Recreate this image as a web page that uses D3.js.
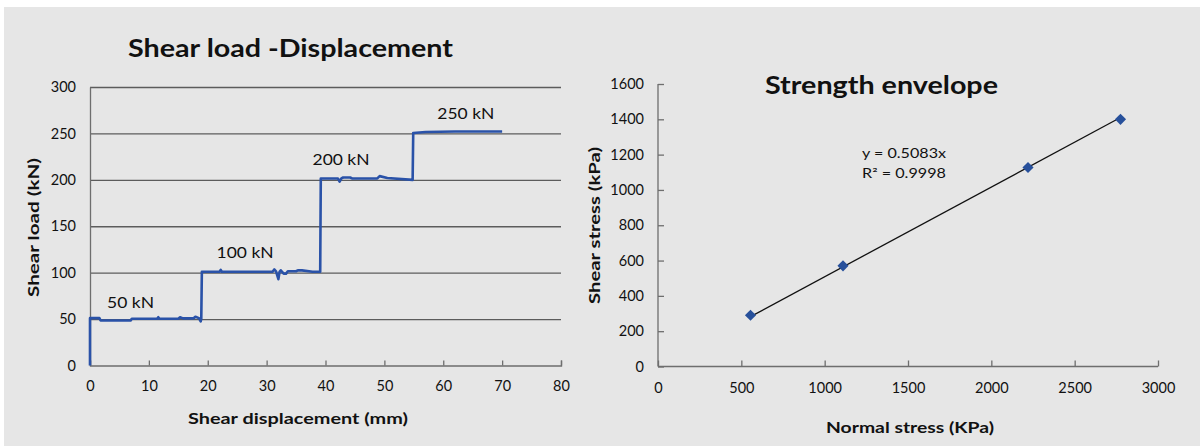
<!DOCTYPE html>
<html lang="en">
	<head>
		<meta charset="utf-8">
		<title>Shear load and strength envelope</title>
		<script type="text/javascript" src="https://cdn.jsdelivr.net/npm/d3@7"></script>
		<style type="text/css">
			body { margin: 0; background: #ffffff; }
			svg { display: block; }
			text { font-family: Lato, "Open Sans", sans-serif; fill: #111; }
		</style>
	</head>
	<body>
		<script type="text/javascript">

			//Left chart: shear displacement (mm) vs shear load (kN)
			var displacement = [0, 0, 1.6, 1.8, 6.9, 7.1, 11.4, 11.6, 11.8, 15.0, 15.3, 15.8, 17.6, 17.9, 18.5, 18.8, 18.9, 19.0,
				22.0, 22.2, 22.4, 31.0, 31.3, 31.6, 32.0, 32.2, 32.4, 32.9, 33.3, 33.6, 35.0, 35.3, 36.0, 37.8, 38.2, 39.1,
				39.2, 42.1, 42.4, 42.7, 43.0, 44.2, 44.5, 48.8, 49.2, 50.5, 54.8,
				54.9, 57.0, 62.0, 70.0];
			var shearLoad = [0, 51, 51, 48.5, 48.5, 50.3, 50.3, 52, 50.3, 50.3, 52, 50.8, 50.8, 52.5, 51, 47.5, 50.5, 101,
				101, 103, 101, 101, 103.5, 101.5, 93, 101, 102.5, 99, 99, 101.5, 101.5, 102.5, 102.5, 101, 101, 101,
				201.5, 201.5, 198, 201.5, 202.5, 202.5, 201.5, 201.5, 204, 202, 200,
				250.5, 251.5, 252, 252];
			var loadLabels = ["50 kN", "100 kN", "200 kN", "250 kN"];
			var loadLabelX = [2.9, 21.5, 37.8, 59.0];
			var loadLabelY = [62, 116, 216, 265.5];

			//Right chart: normal stress vs shear stress (kPa)
			var normalStress = [555, 1110, 2220, 2775];
			var shearStress = [290, 570, 1127, 1400];
			var slope = 0.5083;
			var rSquared = 0.9998;

			var xTicksLeft = [0, 10, 20, 30, 40, 50, 60, 70, 80];
			var yTicksLeft = [0, 50, 100, 150, 200, 250, 300];
			var xTicksRight = [0, 500, 1000, 1500, 2000, 2500, 3000];
			var yTicksRight = [0, 200, 400, 600, 800, 1000, 1200, 1400, 1600];

			//Width and height
			var w = 1200;
			var h = 446;

			var svg = d3.select("body")
						.append("svg")
						.attr("width", w)
						.attr("height", h);

			//grey chart area, white strip at top and left
			svg.append("rect")
				.attr("x", 4)
				.attr("y", 7)
				.attr("width", w - 4)
				.attr("height", h - 7)
				.attr("fill", "#e6e6e6");

			var axisColor = "#6e6e6e";
			var plain = d3.format("d");

			// ---------- left chart ----------
			var xL = d3.scaleLinear().domain([0, 80]).range([90, 561]);
			var yL = d3.scaleLinear().domain([0, 300]).range([365.5, 87]);

			var left = svg.append("g");

			//gridlines
			left.append("g")
				.attr("transform", "translate(90,0)")
				.call(d3.axisRight(yL).tickValues(yTicksLeft.slice(1)).tickSize(471).tickFormat(""))
				.call(function(g) {
					g.select(".domain").remove();
					g.selectAll("line").attr("stroke", "#5c5c5c").attr("stroke-width", 1.3);
				});

			//y axis
			left.append("g")
				.attr("transform", "translate(90,0)")
				.call(d3.axisLeft(yL).tickValues(yTicksLeft).tickSize(0).tickPadding(14).tickFormat(plain))
				.call(function(g) {
					g.select(".domain").attr("stroke", axisColor).attr("stroke-width", 1.3);
					g.selectAll("text").attr("font-size", "14.5px").attr("fill", "#111")
						.style("font-family", "Lato, sans-serif");
				});

			//x axis, ticks pointing up
			left.append("g")
				.attr("transform", "translate(0,365.5)")
				.call(d3.axisTop(xL).tickValues(xTicksLeft).tickSize(5).tickFormat(plain))
				.call(function(g) {
					g.select(".domain").attr("stroke", axisColor).attr("stroke-width", 1.3);
					g.selectAll("line").attr("stroke", axisColor).attr("stroke-width", 1.3);
					g.selectAll("text").attr("font-size", "14.5px").attr("fill", "#111")
						.attr("y", 25)
						.style("font-family", "Lato, sans-serif");
				});

			var line = d3.line()
				.x(function(d, i) { return xL(displacement[i]); })
				.y(function(d) { return yL(d); });

			left.append("path")
				.datum(shearLoad)
				.attr("d", line)
				.attr("fill", "none")
				.attr("stroke", "#2a52a8")
				.attr("stroke-width", 2.6)
				.attr("stroke-linejoin", "round");

			left.selectAll(".lbl")
				.data(loadLabels)
				.enter()
				.append("text")
				.text(function(d) { return d; })
				.attr("x", function(d, i) { return xL(loadLabelX[i]); })
				.attr("y", function(d, i) { return yL(loadLabelY[i]); })
				.attr("font-size", "16px")
				.attr("textLength", function(d) { return d.length === 5 ? 47 : 57; })
				.attr("lengthAdjust", "spacingAndGlyphs");

			left.append("text")
				.text("Shear load -Displacement")
				.attr("x", 128)
				.attr("y", 57)
				.attr("font-size", "24px")
				.attr("font-weight", "bold")
				.attr("textLength", 325)
				.attr("lengthAdjust", "spacingAndGlyphs");

			left.append("text")
				.text("Shear displacement (mm)")
				.attr("x", 188)
				.attr("y", 424)
				.attr("font-size", "15px")
				.attr("font-weight", "bold")
				.attr("textLength", 220)
				.attr("lengthAdjust", "spacingAndGlyphs");

			left.append("text")
				.text("Shear load (kN)")
				.attr("transform", "translate(39,297) rotate(-90)")
				.attr("font-size", "15px")
				.attr("font-weight", "bold")
				.attr("textLength", 139)
				.attr("lengthAdjust", "spacingAndGlyphs");

			// ---------- right chart ----------
			var xR = d3.scaleLinear().domain([0, 3000]).range([658, 1158]);
			var yR = d3.scaleLinear().domain([0, 1600]).range([366.5, 84]);

			var right = svg.append("g");

			right.append("g")
				.attr("transform", "translate(658,0)")
				.call(d3.axisRight(yR).tickValues(yTicksRight).tickSize(6).tickFormat(plain))
				.call(function(g) {
					g.select(".domain").attr("d", "M0," + yR(1600) + "V" + yR(0)).attr("stroke", axisColor).attr("stroke-width", 1.3);
					g.selectAll("line").attr("stroke", axisColor).attr("stroke-width", 1.3);
					g.selectAll("text").attr("font-size", "14.5px").attr("fill", "#111")
						.attr("x", -14).attr("text-anchor", "end")
						.style("font-family", "Lato, sans-serif");
				});

			right.append("g")
				.attr("transform", "translate(0,366.5)")
				.call(d3.axisTop(xR).tickValues(xTicksRight).tickSize(6).tickFormat(plain))
				.call(function(g) {
					g.select(".domain").attr("d", "M" + xR(0) + ",0H" + xR(3000)).attr("stroke", axisColor).attr("stroke-width", 1.3);
					g.selectAll("line").attr("stroke", axisColor).attr("stroke-width", 1.3);
					g.selectAll("text").attr("font-size", "14.5px").attr("fill", "#111")
						.attr("y", 26)
						.style("font-family", "Lato, sans-serif");
				});

			//linear trendline through the origin, drawn over the data range
			var xMin = d3.min(normalStress), xMax = d3.max(normalStress);
			right.append("line")
				.attr("x1", xR(xMin))
				.attr("y1", yR(slope * xMin))
				.attr("x2", xR(xMax))
				.attr("y2", yR(slope * xMax))
				.attr("stroke", "#111")
				.attr("stroke-width", 1.3);

			right.selectAll(".pt")
				.data(normalStress)
				.enter()
				.append("path")
				.attr("d", d3.symbol().type(d3.symbolSquare).size(62))
				.attr("transform", function(d, i) {
					return "translate(" + xR(d) + "," + yR(shearStress[i]) + ") rotate(45)";
				})
				.attr("fill", "#27509b");

			right.append("text")
				.text("y = " + slope + "x")
				.attr("x", 862)
				.attr("y", 158)
				.attr("font-size", "13px")
				.attr("textLength", 84)
				.attr("lengthAdjust", "spacingAndGlyphs");

			right.append("text")
				.text("R\u00b2 = " + rSquared)
				.attr("x", 862)
				.attr("y", 178)
				.attr("font-size", "13px")
				.attr("textLength", 84)
				.attr("lengthAdjust", "spacingAndGlyphs");

			right.append("text")
				.text("Strength envelope")
				.attr("x", 765)
				.attr("y", 94)
				.attr("font-size", "24px")
				.attr("font-weight", "bold")
				.attr("textLength", 233)
				.attr("lengthAdjust", "spacingAndGlyphs");

			right.append("text")
				.text("Normal stress (KPa)")
				.attr("x", 826)
				.attr("y", 433)
				.attr("font-size", "15px")
				.attr("font-weight", "bold")
				.attr("textLength", 168)
				.attr("lengthAdjust", "spacingAndGlyphs");

			right.append("text")
				.text("Shear stress (kPa)")
				.attr("transform", "translate(600,304) rotate(-90)")
				.attr("font-size", "15px")
				.attr("font-weight", "bold")
				.attr("textLength", 157)
				.attr("lengthAdjust", "spacingAndGlyphs");

		</script>
	</body>
</html>
